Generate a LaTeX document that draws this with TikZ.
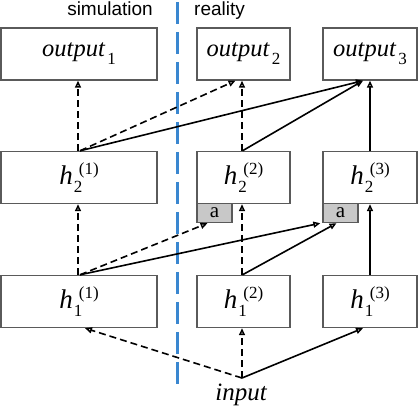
\documentclass[tikz,border=0pt]{standalone}
\usepackage{fontspec}
\setmainfont{Liberation Serif}
\newfontfamily\sansf{Liberation Sans}
\usetikzlibrary{arrows.meta}
\definecolor{sepblue}{RGB}{58,135,208}
\definecolor{boxline}{RGB}{90,90,90}
\definecolor{afill}{RGB}{200,200,200}
\newcommand{\outlbl}[1]{\textit{output}\hspace{2pt}\raisebox{-8pt}{\fontsize{17}{17}\selectfont #1}}
\newcommand{\hlbl}[2]{\textit{h}\hspace{1pt}\makebox[0pt][l]{\raisebox{-8.5pt}{\fontsize{17}{17}\selectfont #1}}\hspace{5pt}\raisebox{10pt}{\fontsize{17}{17}\selectfont (#2)}}
\begin{document}
\begin{tikzpicture}[x=1pt,y=-1pt,
  box/.style={draw=boxline, line width=1.4pt, fill=white, minimum width=#1, inner sep=0pt},
  obox/.style={box=#1, minimum height=52pt, font=\fontsize{24.5}{28}\selectfont},
  hbox/.style={box=#1, minimum height=52pt, font=\fontsize{27}{30}\selectfont},
  abox/.style={draw=boxline, line width=1.4pt, fill=afill, minimum width=35pt, minimum height=19pt, inner sep=0pt, font=\fontsize{21}{21}\selectfont},
  arr/.style={line width=1.6pt, -{Triangle[open,length=7pt,width=6pt,line width=1.5pt]}},
  dsh/.style={arr, dash pattern=on 7pt off 4pt},
  sep/.style={draw=sepblue, line width=3pt, dash pattern=on 21.5pt off 8.5pt},
  lbl/.style={font=\sansf\fontsize{19}{20}\selectfont, inner sep=0pt}
]
\useasboundingbox (0,0) rectangle (418,410);
% separator
\coordinate (septop) at (177,2);
\coordinate (sepbot) at (177,388);
\draw[sep] (septop) -- (sepbot);
% labels
\node[lbl, anchor=base east] (sim) at (153,15) {simulation};
\node[lbl, anchor=base west] (real) at (194,15) {reality};
% outputs
\node[obox=156pt] (o1) at (79,54) {\outlbl{1}};
\node[obox=93pt] (o2) at (243.5,54) {\outlbl{2}};
\node[obox=94pt] (o3) at (370,54) {\outlbl{3}};
% h2
\node[hbox=156pt] (h21) at (79,177.5) {\hlbl{2}{1}};
\node[hbox=93pt] (h22) at (243.5,177.5) {\hlbl{2}{2}};
\node[hbox=94pt] (h23) at (370,177.5) {\hlbl{2}{3}};
\node[abox] (a2) at (214.5,213) {\raisebox{-1pt}{a}};
\node[abox] (a3) at (340.5,213) {\raisebox{-1pt}{a}};
% h1
\node[hbox=156pt] (h11) at (79,301.5) {\hlbl{1}{1}};
\node[hbox=93pt] (h12) at (243.5,301.5) {\hlbl{1}{2}};
\node[hbox=94pt] (h13) at (370,301.5) {\hlbl{1}{3}};
% input
\coordinate (in) at (242,378);
\node[font=\fontsize{25}{28}\selectfont\itshape, anchor=base, inner sep=0pt] (inlbl) at (241,400) {input};
% arrows input -> h1
\draw[dsh] (in) -- ([xshift=6pt]h11.south);
\draw[dsh] (in) -- ([xshift=-1.5pt]h12.south);
\draw[arr] (in) -- ([xshift=-7pt]h13.south);
% h1 -> h2
\draw[dsh] ([xshift=-1pt]h11.north) -- ([xshift=-1pt]h21.south);
\draw[dsh] ([xshift=1pt]h11.north) -- ([xshift=-7pt]a2.south);
\draw[arr] ([xshift=1pt]h11.north) -- ([xshift=-2pt]a3.south west);
\draw[dsh] ([xshift=-1.5pt]h12.north) -- ([xshift=-1.5pt]h22.south);
\draw[arr] ([xshift=-1pt]h12.north) -- ([xshift=-4pt]a3.south);
\draw[arr] (h13.north) -- (h23.south);
% h2 -> outputs
\draw[dsh] ([xshift=-1pt]h21.north) -- ([xshift=-1pt]o1.south);
\draw[dsh] ([xshift=1pt]h21.north) -- ([xshift=-8pt]o2.south);
\draw[arr] ([xshift=1pt]h21.north) -- ([xshift=-7pt]o3.south);
\draw[dsh] ([xshift=-1.5pt]h22.north) -- ([xshift=-1.5pt]o2.south);
\draw[arr] ([xshift=-1pt]h22.north) -- ([xshift=-7pt]o3.south);
\draw[arr] (h23.north) -- (o3.south);
\end{tikzpicture}
\end{document}
